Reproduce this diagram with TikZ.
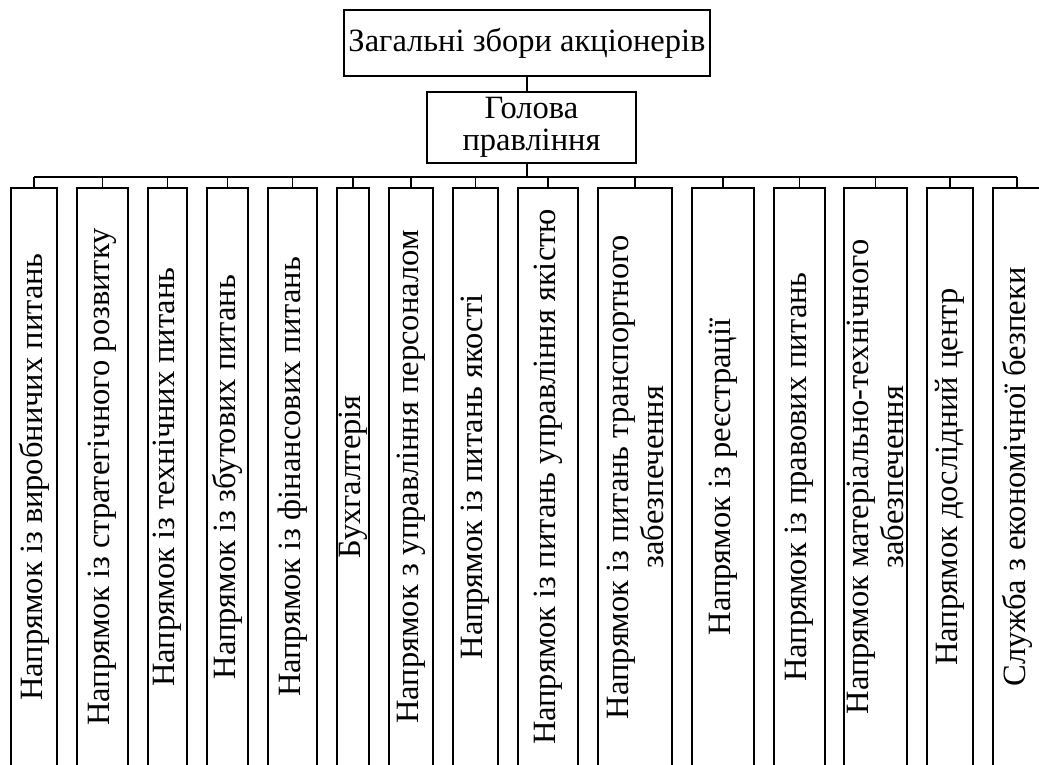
\documentclass[tikz,border=0pt]{standalone}
\usepackage{fontspec}
\setmainfont{Liberation Serif}

\tikzset{
  unitbox/.style={draw,line width=1.6pt,rotate=90,minimum width=578pt,inner sep=1pt,align=center,
    font=\fontsize{32.5}{35}\selectfont},
  headbox/.style={draw,line width=1.8pt,inner sep=2pt,align=center,font=\fontsize{32.5}{32}\selectfont},
  bus/.style={line width=2.8pt},
  stub/.style={line width=1.6pt}
}

\begin{document}
\begin{tikzpicture}[x=1pt,y=-1pt]
\useasboundingbox (0,0) rectangle (1039,764);
\node (top) at (527,43) [headbox,minimum width=366pt,minimum height=66pt] {Загальні збори акціонерів};
\node (head) at (531.5,127.5) [headbox,minimum width=209pt,minimum height=71pt] {Голова\\правління};

\node (b1) at (34,477) [unitbox,minimum height=46pt] {Напрямок із виробничих питань};
\node (b2) at (102.5,477) [unitbox,minimum height=51pt] {Напрямок із стратегічного розвитку};
\node (b3) at (167.5,477) [unitbox,minimum height=39pt] {Напрямок із технічних питань};
\node (b4) at (227.5,477) [unitbox,minimum height=41pt] {Напрямок із збутових питань};
\node (b5) at (292.5,477) [unitbox,minimum height=49pt] {Напрямок із фінансових питань};
\node (b6) at (353,477) [unitbox,minimum height=32pt] {Бухгалтерія};
\node (b7) at (411,477) [unitbox,minimum height=44pt] {Напрямок з управління персоналом};
\node (b8) at (475.5,477) [unitbox,minimum height=45pt] {Напрямок із питань якості};
\node (b9) at (548,477) [unitbox,minimum height=60pt] {Напрямок із питань управління якістю};
\node (b10) at (635,477) [unitbox,minimum height=74pt] {Напрямок із питань транспортного\\забезпечення};
\node (b11) at (723,477) [unitbox,minimum height=62pt] {Напрямок із реєстрації};
\node (b12) at (799.5,477) [unitbox,minimum height=51pt] {Напрямок із правових питань};
\node (b13) at (875.5,477) [unitbox,minimum height=63pt] {Напрямок матеріально-технічного\\забезпечення};
\node (b14) at (950,477) [unitbox,minimum height=46pt] {Напрямок дослідний центр};
\node (b15) at (1017,477) [unitbox,minimum height=48pt] {Служба з економічної безпеки};

\coordinate (busL) at (34,177);
\coordinate (busR) at (1017,177);
\draw[bus] (busL) -- (busR);
\draw[bus] (top.south) -- (top.south |- head.north);
\draw[bus] (head.south -| top.south) -- (top.south |- busL);
\foreach \i in {1,...,15} {
	\draw[stub] (b\i.east) -- (b\i.east |- busL);
	}
\end{tikzpicture}
\end{document}
